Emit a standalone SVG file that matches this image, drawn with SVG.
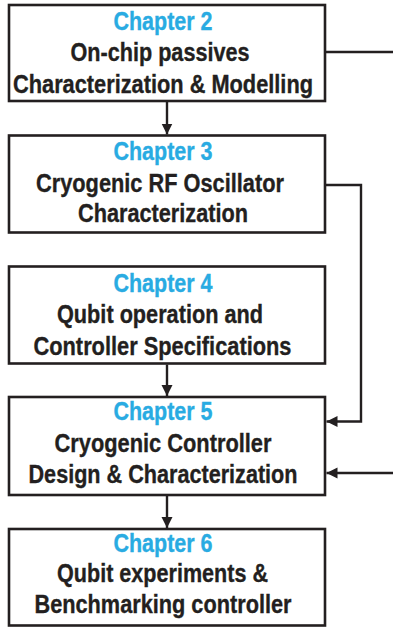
<svg xmlns="http://www.w3.org/2000/svg" width="393" height="627" viewBox="0 0 393 627">
<style>
.box{fill:#fff;stroke:#231f20;stroke-width:2.6}
.t{font-family:"Liberation Sans",Arial,sans-serif;font-weight:bold;font-size:25.5px;text-anchor:middle;stroke-width:0.35}
.ch{fill:#29abe2;stroke:#29abe2}
.bk{fill:#231f20;stroke:#231f20}
.ln{fill:none;stroke:#231f20;stroke-width:2.4}
</style>
<defs>
<marker id="ah" markerUnits="userSpaceOnUse" markerWidth="12" markerHeight="12" refX="11" refY="6" orient="auto">
<path d="M0,0.5 L11,6 L0,11.5 z" fill="#231f20"/>
</marker>
</defs>
<rect width="393" height="627" fill="#fff"/>
<g id="connectors">
<line class="ln" x1="167" y1="102" x2="167" y2="134.5" marker-end="url(#ah)"/>
<line class="ln" x1="167" y1="364.5" x2="167" y2="396" marker-end="url(#ah)"/>
<line class="ln" x1="167" y1="496" x2="167" y2="528" marker-end="url(#ah)"/>
<polyline class="ln" points="325,52 393,52"/>
<polyline class="ln" points="325,185 361,185 361,421.5 326.5,421.5" marker-end="url(#ah)"/>
<line class="ln" x1="393" y1="473" x2="326.5" y2="473" marker-end="url(#ah)"/>
</g>
<g id="ch2">
<rect class="box" x="9" y="5" width="316" height="96"/>
<text class="t ch" x="163" y="30" textLength="99" lengthAdjust="spacingAndGlyphs">Chapter 2</text>
<text class="t bk" x="160" y="61" textLength="179" lengthAdjust="spacingAndGlyphs">On-chip passives</text>
<text class="t bk" x="163" y="92.5" textLength="300" lengthAdjust="spacingAndGlyphs">Characterization &amp; Modelling</text>
</g>
<g id="ch3">
<rect class="box" x="9" y="135.5" width="316" height="97"/>
<text class="t ch" x="163" y="160" textLength="99" lengthAdjust="spacingAndGlyphs">Chapter 3</text>
<text class="t bk" x="160" y="191.5" textLength="248" lengthAdjust="spacingAndGlyphs">Cryogenic RF Oscillator</text>
<text class="t bk" x="163" y="221.5" textLength="170" lengthAdjust="spacingAndGlyphs">Characterization</text>
</g>
<g id="ch4">
<rect class="box" x="9" y="266.5" width="316" height="97"/>
<text class="t ch" x="163" y="291.5" textLength="99" lengthAdjust="spacingAndGlyphs">Chapter 4</text>
<text class="t bk" x="160" y="323" textLength="206" lengthAdjust="spacingAndGlyphs">Qubit operation and</text>
<text class="t bk" x="162.5" y="354.5" textLength="258" lengthAdjust="spacingAndGlyphs">Controller Specifications</text>
</g>
<g id="ch5">
<rect class="box" x="9" y="397" width="316" height="98"/>
<text class="t ch" x="163" y="419.5" textLength="99" lengthAdjust="spacingAndGlyphs">Chapter 5</text>
<text class="t bk" x="163" y="451.5" textLength="217" lengthAdjust="spacingAndGlyphs">Cryogenic Controller</text>
<text class="t bk" x="163" y="483" textLength="269" lengthAdjust="spacingAndGlyphs">Design &amp; Characterization</text>
</g>
<g id="ch6">
<rect class="box" x="9" y="529" width="316" height="96.5"/>
<text class="t ch" x="163" y="551.5" textLength="99" lengthAdjust="spacingAndGlyphs">Chapter 6</text>
<text class="t bk" x="162.5" y="581.5" textLength="211" lengthAdjust="spacingAndGlyphs">Qubit experiments &amp;</text>
<text class="t bk" x="163" y="613" textLength="257" lengthAdjust="spacingAndGlyphs">Benchmarking controller</text>
</g>
</svg>
